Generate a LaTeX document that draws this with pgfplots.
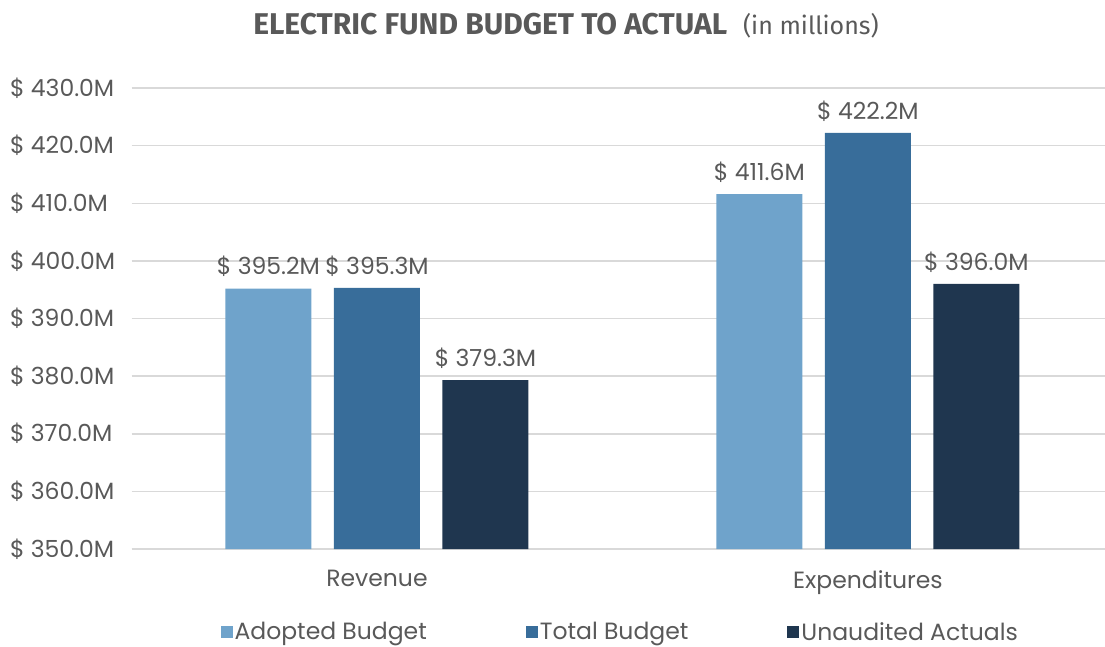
\documentclass[border=0pt]{standalone}
\usepackage{fontspec}
\setmainfont{Poppins}
\newfontfamily\titlefont{Fira Sans}
\usepackage{pgfplots}
\pgfplotsset{compat=1.18}
\definecolor{cA}{HTML}{6FA3CB}
\definecolor{cB}{HTML}{386D9A}
\definecolor{cC}{HTML}{1F364F}
\definecolor{tgrey}{HTML}{595959}
\definecolor{ggrey}{HTML}{D9D9D9}
\begin{document}
\begin{tikzpicture}[x=1pt,y=1pt]
\useasboundingbox (0,0) rectangle (1105,-647);
\node[text=tgrey,anchor=base] at (566,-35) {\titlefont\fontsize{30}{34}\selectfont\bfseries ELECTRIC FUND BUDGET TO ACTUAL\hspace{16pt}\mdseries\fontsize{25}{28}\selectfont(in millions)};
\begin{axis}[
  at={(131.5pt,-549pt)}, anchor=south west,
  scale only axis, width=973.5pt, height=461pt,
  xmin=-0.5, xmax=1.483, ymin=350, ymax=430,
  ybar, bar width=86pt,
  xtick={0,1}, xticklabels={Revenue,Expenditures},
  ytick={350,360,...,430},
  yticklabel={\$ \pgfmathprintnumber[fixed,precision=1,fixed zerofill]{\tick}M},
  /pgf/number format/assume math mode=true,
  ymajorgrids, grid style={ggrey,line width=1.5pt},
  axis x line*=bottom, axis y line*=left,
  x axis line style={ggrey,line width=1.5pt},
  y axis line style={draw=none},
  major tick length=0pt,
  tick label style={text=tgrey,font=\fontsize{23.5}{26}\selectfont},
  yticklabel style={anchor=west,xshift=-125pt},
  xticklabel style={yshift=-18pt},
  nodes near coords={\$ \pgfmathprintnumber[fixed,precision=1,fixed zerofill,assume math mode=true]{\pgfplotspointmeta}M},
  every node near coord/.append style={text=tgrey,font=\fontsize{23.5}{26}\selectfont,yshift=8pt},
  legend style={at={(0.502,-0.18)},anchor=center,draw=none,legend columns=3,
    font=\fontsize{23.5}{26}\selectfont,text=tgrey,
    /tikz/every even column/.append style={column sep=97pt}},
  legend image code/.code={\fill[#1] (0pt,-6pt) rectangle (12pt,6pt);},
  clip=false,
]
\addplot[fill=cA,draw=none,bar shift=-108.5pt] coordinates {(0,395.2) (1,411.6)};
\addplot[fill=cB,draw=none,bar shift=0pt] coordinates {(0,395.3) (1,422.2)};
\addplot[fill=cC,draw=none,bar shift=108.5pt] coordinates {(0,379.3) (1,396.0)};
\legend{Adopted Budget,Total Budget,Unaudited Actuals}
\end{axis}
\end{tikzpicture}
\end{document}
